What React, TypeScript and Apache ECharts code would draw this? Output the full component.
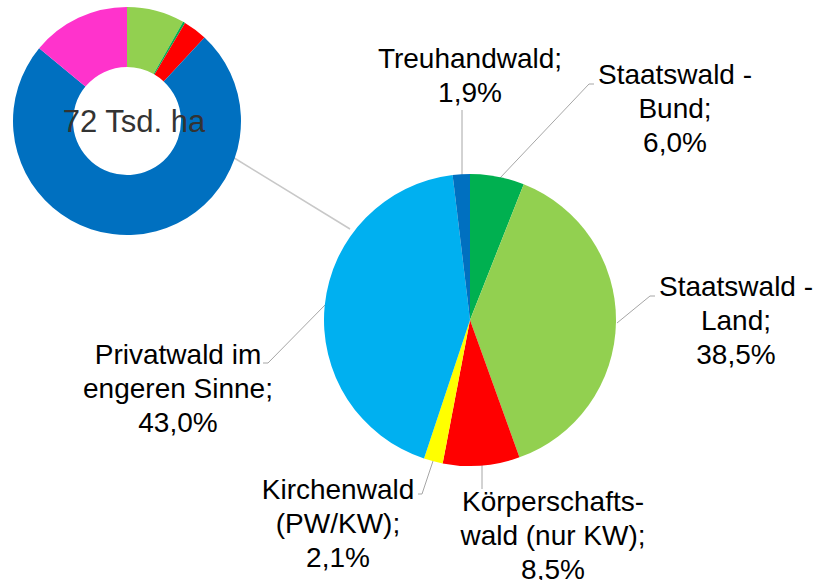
import React, { useEffect, useRef } from "react";
import * as echarts from "echarts";

const mainNames = [
  "Staatswald -\nBund",
  "Staatswald -\nLand",
  "Körperschafts-\nwald (nur KW)",
  "Kirchenwald\n(PW/KW)",
  "Privatwald im\nengeren Sinne",
  "Treuhandwald",
];
const mainValues = [6.0, 38.5, 8.5, 2.1, 43.0, 1.9];
const mainColors = ["#00B050", "#92D050", "#FF0000", "#FFFF00", "#00B0F0", "#0070C0"];

const donutNames = ["Staatswald - Land", "Staatswald - Bund", "Körperschaftswald", "Privatwald", "Sonstige"];
const donutValues = [8.2, 0.3, 3.4, 74.1, 14.0];
const donutColors = ["#92D050", "#00B050", "#FF0000", "#0070C0", "#FF33CC"];
const donutTotal = "72 Tsd. ha";

// label placement (center of label block) and leader lines, by slice index
const labelPlaces: { x: number; y: number; line: number[][] }[] = [
  { x: 675, y: 108, line: [[500, 178], [589, 84], [594, 84]] },
  { x: 736, y: 320, line: [[617, 323], [650, 296], [655, 296]] },
  { x: 553, y: 535, line: [[482, 465], [482, 489]] },
  { x: 338, y: 523, line: [[433, 461], [422, 494], [418, 494]] },
  { x: 178, y: 388, line: [[326, 304], [268, 363], [263, 363]] },
  { x: 470, y: 75, line: [[462, 175], [462, 110]] },
];

const fmt = (v: number) => v.toFixed(1).replace(".", ",") + "%";

export default function App() {
  const ref = useRef<HTMLDivElement>(null);
  useEffect(() => {
    if (!ref.current) return;
    const chart = echarts.init(ref.current, null, { renderer: "svg" });
    const font = "'Liberation Sans', Arial, sans-serif";
    chart.setOption({
      animation: false,
      backgroundColor: "#ffffff",
      graphic: [
        {
          type: "line",
          shape: { x1: 231, y1: 156, x2: 350, y2: 229 },
          style: { stroke: "#c8c8c8", lineWidth: 1.5 },
          z: 1,
        },
        {
          type: "text",
          x: 134,
          y: 121,
          z: 10,
          style: {
            text: donutTotal,
            font: `31px ${font}`,
            fill: "#333333",
            align: "center",
            verticalAlign: "middle",
          },
        },
      ],
      series: [
        {
          type: "pie",
          center: [127, 121],
          radius: [54, 114],
          startAngle: 90,
          clockwise: true,
          label: { show: false },
          labelLine: { show: false },
          emphasis: { disabled: true },
          data: donutNames.map((n, i) => ({
            name: n,
            value: donutValues[i],
            itemStyle: { color: donutColors[i] },
          })),
        },
        {
          type: "pie",
          center: [470, 320],
          radius: 146,
          startAngle: 90,
          clockwise: true,
          emphasis: { disabled: true },
          label: {
            show: true,
            position: "outside",
            formatter: (p: any) => `${p.name};\n${fmt(p.value)}`,
            fontFamily: font,
            fontSize: 28,
            lineHeight: 34,
            color: "#000000",
            align: "center",
            overflow: "none",
            width: 300,
          },
          labelLine: {
            show: true,
            lineStyle: { color: "#a6a6a6", width: 1 },
          },
          labelLayout: (params: any) => {
            const p = labelPlaces[params.dataIndex];
            return {
              x: p.x,
              y: p.y,
              align: "center",
              verticalAlign: "middle",
              labelLinePoints: p.line,
            };
          },
          data: mainNames.map((n, i) => ({
            name: n,
            value: mainValues[i],
            itemStyle: { color: mainColors[i] },
          })),
        },
      ],
    });
    return () => chart.dispose();
  }, []);
  return (
    <div
      ref={ref}
      style={{ position: "fixed", left: 0, top: 0, width: 817, height: 580 }}
    />
  );
}
